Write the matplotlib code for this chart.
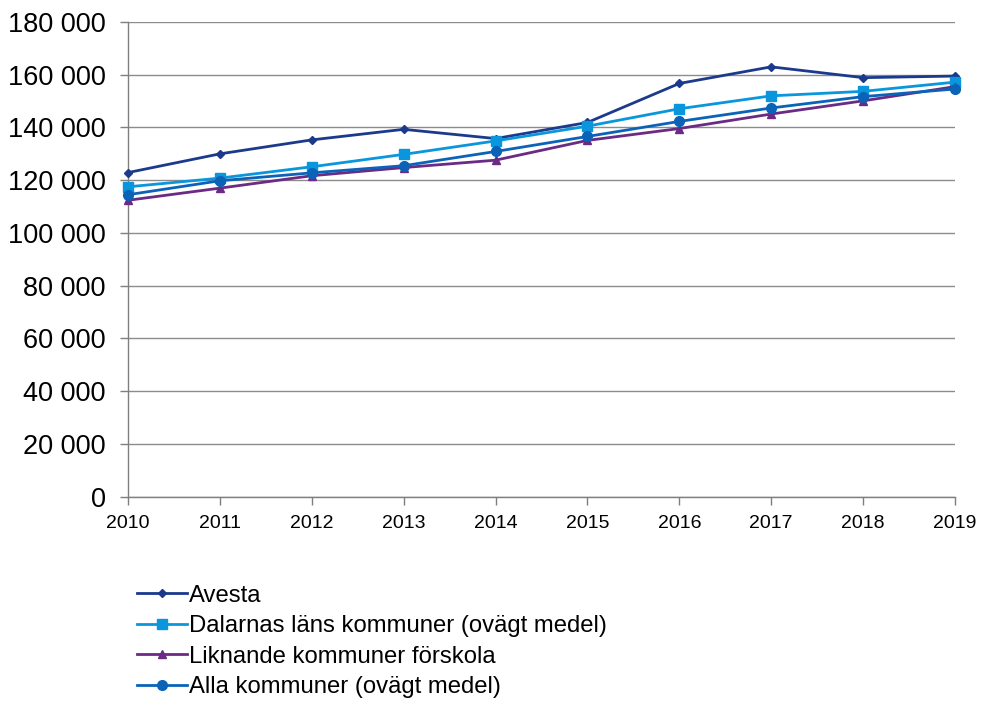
import matplotlib
matplotlib.use("Agg")
import matplotlib.pyplot as plt
from matplotlib.ticker import FuncFormatter

plt.rcParams['font.family'] = ['Liberation Sans', 'DejaVu Sans']

years = [2010, 2011, 2012, 2013, 2014, 2015, 2016, 2017, 2018, 2019]
avesta = [122900, 130000, 135300, 139300, 135800, 141900, 156700, 163000, 158900, 159500]
dalarna = [117500, 120800, 125100, 129800, 134900, 140500, 147100, 152000, 153700, 157200]
liknande = [112400, 117000, 121700, 124800, 127600, 135100, 139600, 145100, 150100, 155500]
alla = [114500, 119800, 122800, 125500, 130900, 136600, 142300, 147400, 151700, 154600]

labels = ["Avesta", "Dalarnas läns kommuner (ovägt medel)",
          "Liknande kommuner förskola", "Alla kommuner (ovägt medel)"]
colors = ["#1B3A8C", "#0A96DC", "#6B2A84", "#0B63B8"]
markers = ["D", "s", "^", "o"]
msizes = [4.5, 7, 6, 7]

fig = plt.figure(figsize=(9.83, 7.01), dpi=100)
ax = fig.add_axes([0.1302, 0.2915, 0.8413, 0.6771])

lines = []
for vals, lab, c, m, ms in zip([avesta, dalarna, liknande, alla], labels, colors, markers, msizes):
    ln, = ax.plot(years, vals, color=c, marker=m, markersize=ms, linewidth=2,
                  label=lab, clip_on=False, zorder=3)
    lines.append(ln)

ax.set_xlim(2010, 2019)
ax.set_ylim(0, 180000)
ax.set_yticks(range(0, 180001, 20000))
ax.set_xticks(years)
ax.yaxis.set_major_formatter(FuncFormatter(lambda v, p: f"{int(v):,}".replace(",", " ")))
ax.grid(axis='y', color='#8C8C8C', linewidth=1)
ax.set_axisbelow(True)
for s in ['top', 'right']:
    ax.spines[s].set_visible(False)
for s in ['left', 'bottom']:
    ax.spines[s].set_color('#7F7F7F')
    ax.spines[s].set_linewidth(1)
ax.tick_params(axis='y', labelsize=19.5, length=6, color='#7F7F7F', width=1, pad=10)
ax.tick_params(axis='x', labelsize=14, length=6, color='#7F7F7F', width=1, pad=7)

fig.legend(handles=lines, labels=labels, loc='upper left',
           bbox_to_anchor=(0.139, 0.166), frameon=False, fontsize=17.2,
           handlelength=2.1, handletextpad=0.1, labelspacing=0.36,
           borderaxespad=0, borderpad=0)

fig.savefig("out.png", dpi=100)
